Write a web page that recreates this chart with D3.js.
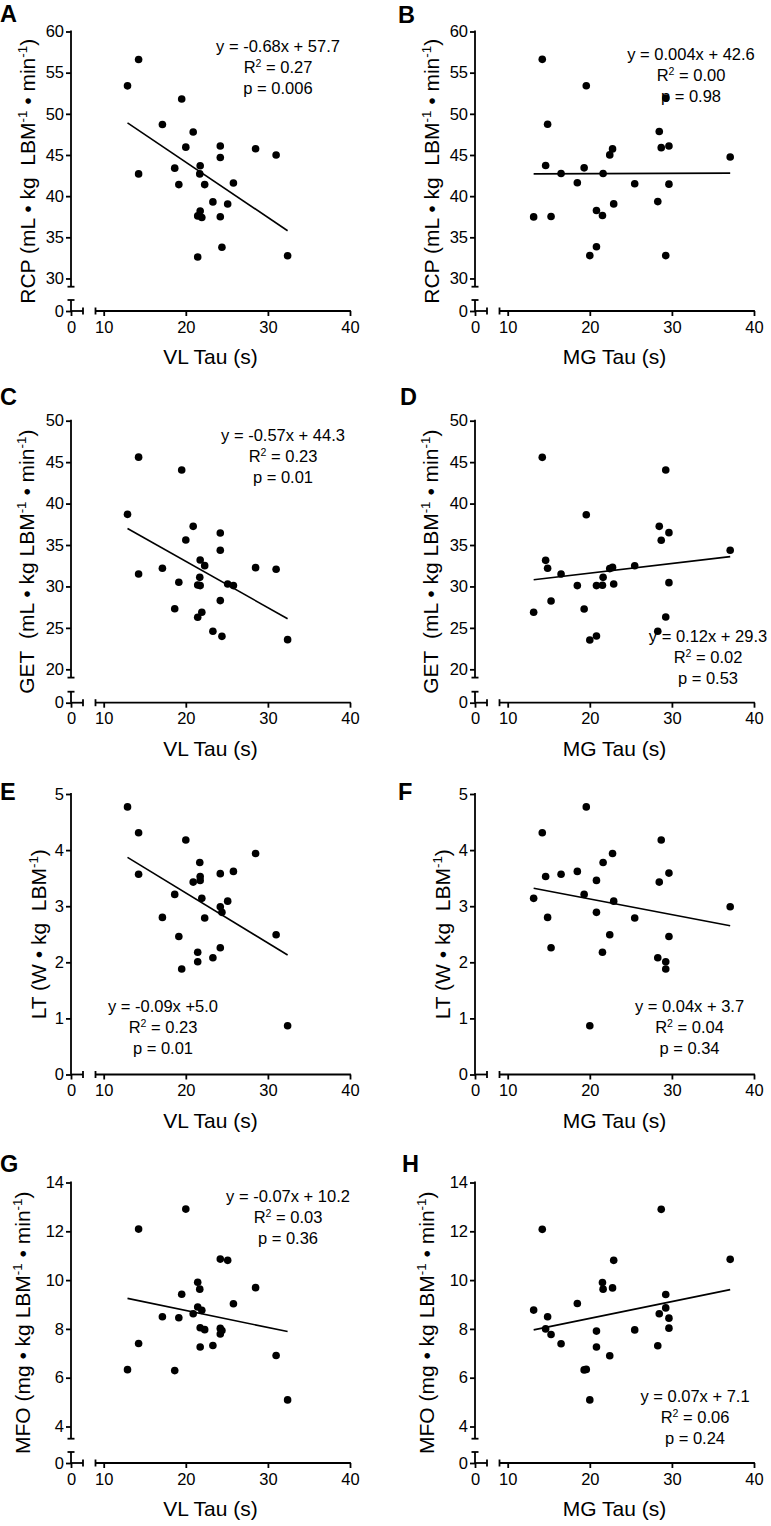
<!DOCTYPE html>
<html><head><meta charset="utf-8">
<script src="https://cdn.jsdelivr.net/npm/d3@7"></script>
<style>
body{margin:0;background:#fff}
svg text{font-family:"Liberation Sans",Arial,Helvetica,sans-serif;fill:#000}
</style>
</head><body>
<svg id="c" width="771" height="1526"></svg>
<script>
// ---------- DATA ----------
const vlTau = [12.9,14.25,14.25,17.15,18.65,19.15,19.5,20.0,20.9,21.45,21.45,21.7,21.75,21.75,21.95,22.3,23.3,24.2,24.2,24.2,24.4,25.1,25.8,28.5,31.0,32.4];
const mgTau = [13.16,14.21,14.62,14.86,15.28,16.5,18.48,19.31,19.57,20.0,20.81,20.81,21.54,21.62,22.43,22.77,22.91,25.47,28.28,28.46,28.7,29.25,29.25,29.64,29.64,37.1];

const rcpA = [53.4,56.6,42.7,48.7,43.4,41.4,51.8,45.95,47.8,37.6,32.6,42.7,43.7,38.2,37.4,41.4,39.3,46.1,44.7,37.5,33.8,39.05,41.6,45.75,45.0,32.76];
const getC = [38.7,45.6,31.5,32.2,27.3,30.5,44.05,35.6,37.25,30.18,26.28,31.1,33.19,30.1,26.88,32.51,24.59,36.45,34.36,28.29,23.98,30.3,30.1,32.27,32.07,23.58];
const ltE  = [4.77,4.31,3.57,2.80,3.21,2.46,1.88,4.18,3.43,2.18,2.01,3.78,3.53,3.46,3.14,2.79,2.08,3.58,2.99,2.26,2.89,3.09,3.62,3.94,2.49,0.87];
const mfoG = [6.33,12.09,7.40,8.5,6.29,8.46,9.42,12.91,8.62,9.91,8.9,9.63,8.05,7.26,8.76,7.97,7.32,10.86,8.02,7.79,7.93,10.81,9.03,9.69,6.91,5.09];

const rcpB = [37.48,56.62,43.72,48.74,37.52,42.75,41.62,43.44,53.41,32.78,38.25,33.86,37.64,42.75,45.01,45.74,39.06,41.5,39.34,47.86,45.89,51.92,32.78,46.09,41.46,44.76];
const getD = [26.88,45.58,33.15,32.19,28.25,31.5,30.1,27.28,38.66,23.54,30.1,24.02,30.14,31.1,32.15,32.3,30.3,32.5,24.59,37.25,35.57,44.05,26.32,36.49,30.46,34.36];
const ltF  = [3.14,4.31,3.53,2.80,2.26,3.57,3.62,3.21,4.77,0.87,3.46,2.89,2.18,3.78,2.49,3.94,3.09,2.79,2.08,3.43,4.18,2.01,1.88,3.59,2.46,2.99];
const mfoH = [8.77,12.08,8.0,8.5,7.77,7.39,9.04,6.32,6.34,5.09,7.91,7.26,9.9,9.63,6.9,9.68,10.81,7.96,7.31,8.62,12.9,9.41,8.86,8.44,8.03,10.85];

// regression lines: [x1, y1, x2, y2] as drawn
const fitA = [12.9, 48.9, 32.4, 35.8];
const fitB = [13.16, 42.7, 37.1, 42.8];
const fitC = [12.9, 37.0, 32.4, 26.1];
const fitD = [13.16, 30.8, 37.1, 33.6];
const fitE = [12.9, 3.87, 32.4, 2.13];
const fitF = [13.16, 3.32, 37.1, 2.65];
const fitG = [12.9, 9.25, 32.4, 7.89];
const fitH = [13.16, 7.96, 37.1, 9.61];

const statsA = ["y = -0.68x + 57.7", "R|2| = 0.27", "p = 0.006"];
const statsB = ["y = 0.004x + 42.6", "R|2| = 0.00", "p = 0.98"];
const statsC = ["y = -0.57x + 44.3", "R|2| = 0.23", "p = 0.01"];
const statsD = ["y = 0.12x + 29.3", "R|2| = 0.02", "p = 0.53"];
const statsE = ["y = -0.09x +5.0", "R|2| = 0.23", "p = 0.01"];
const statsF = ["y = 0.04x + 3.7", "R|2| = 0.04", "p = 0.34"];
const statsG = ["y = -0.07x + 10.2", "R|2| = 0.03", "p = 0.36"];
const statsH = ["y = 0.07x + 7.1", "R|2| = 0.06", "p = 0.24"];

const xTicks = [10, 20, 30, 40];
const yTicksRCP = [30, 35, 40, 45, 50, 55, 60];
const yTicksGET = [20, 25, 30, 35, 40, 45, 50];
const yTicksLT  = [0, 1, 2, 3, 4, 5];
const yTicksMFO = [4, 6, 8, 10, 12, 14];

const yTitleRCP = "RCP (mL • kg\u00A0\u00A0LBM|-1| • min|-1|)";
const yTitleGET = "GET\u00A0\u00A0(mL • kg LBM|-1| • min|-1|)";
const yTitleLT  = "LT (W • kg\u00A0\u00A0LBM|-1|)";
const yTitleMFO = "MFO (mg • kg LBM|-1| • min|-1|)";
const xTitleVL = "VL Tau (s)";
const xTitleMG = "MG Tau (s)";

// ---------- LAYOUT ----------
const rows = [
  {top:31.5, axis:311,    lo:29,  hi:60, loPx:286.7,  ticks:yTicksRCP, brk:true,  yOff:-36,  title:yTitleRCP},
  {top:420.7,axis:702.7,  lo:19,  hi:50, loPx:677.6,  ticks:yTicksGET, brk:true,  yOff:-37,  title:yTitleGET},
  {top:794,  axis:1074.5, lo:0,   hi:5,  loPx:1074.5, ticks:yTicksLT,  brk:false, yOff:-25.5,title:yTitleLT},
  {top:1182.5,axis:1463,  lo:3.5, hi:14, loPx:1438.7, ticks:yTicksMFO, brk:true,  yOff:-41,  title:yTitleMFO}
];
const panels = [
  {L:"A", row:0, x0:71,  lx:0,   ly:22,   xs:vlTau, ys:rcpA, fit:fitA, st:statsA, sx:278,  sy:51.7,  xt:xTitleVL},
  {L:"B", row:0, x0:475, lx:398, ly:23,   xs:mgTau, ys:rcpB, fit:fitB, st:statsB, sx:691,  sy:60,    xt:xTitleMG},
  {L:"C", row:1, x0:71,  lx:0,   ly:405,  xs:vlTau, ys:getC, fit:fitC, st:statsC, sx:283,  sy:440.7, xt:xTitleVL},
  {L:"D", row:1, x0:475, lx:400, ly:405,  xs:mgTau, ys:getD, fit:fitD, st:statsD, sx:708,  sy:641.7, xt:xTitleMG},
  {L:"E", row:2, x0:71,  lx:0,   ly:800,  xs:vlTau, ys:ltE,  fit:fitE, st:statsE, sx:163,  sy:1011.7,xt:xTitleVL},
  {L:"F", row:2, x0:475, lx:398, ly:800,  xs:mgTau, ys:ltF,  fit:fitF, st:statsF, sx:689.5,sy:1011.7,xt:xTitleMG},
  {L:"G", row:3, x0:71,  lx:0,   ly:1172, xs:vlTau, ys:mfoG, fit:fitG, st:statsG, sx:288,  sy:1201.7,xt:xTitleVL},
  {L:"H", row:3, x0:475, lx:402, ly:1172, xs:mgTau, ys:mfoH, fit:fitH, st:statsH, sx:695,  sy:1401.7,xt:xTitleMG}
];

const svg = d3.select("#c");
const SW = 1.8, TICK = 5, CAP = 3.5;
const FONT = '"Liberation Sans", Arial, Helvetica, sans-serif';
const fmt = d3.format("d");

// text with |sup| segments
function richText(sel, str, fs, supShift){
  const parts = str.split("|");
  parts.forEach((s, i) => {
    const t = sel.append("tspan").text(s);
    if (i % 2 === 1) {
      t.attr("font-size", fs * 0.64).attr("dy", -supShift);
    } else if (i > 0) {
      t.attr("dy", supShift);
    }
  });
}

function styleAxis(g){
  g.attr("font-family", FONT).attr("font-size", 16.5);
  g.selectAll(".tick line").attr("stroke", "#000").attr("stroke-width", SW);
  g.selectAll(".tick text").attr("fill", "#000");
  g.select(".domain").remove();
}
function seg(g, x1, y1, x2, y2, w){
  g.append("line").attr("x1", x1).attr("y1", y1).attr("x2", x2).attr("y2", y2)
    .attr("stroke", "#000").attr("stroke-width", w || SW).attr("stroke-linecap", "butt");
}

panels.forEach(p => {
  const r = rows[p.row];
  const g = svg.append("g");
  const x0 = p.x0;
  const x = d3.scaleLinear().domain([9, 40]).range([x0 + 24.5, x0 + 279]);
  const xLow = d3.scaleLinear().domain([0, 1.5]).range([x0, x0 + 12]);
  const y = d3.scaleLinear().domain([r.lo, r.hi]).range([r.loPx, r.top]);
  const yLow = d3.scaleLinear().domain([0, 1]).range([r.axis, r.axis - 11]);

  // X axis main segment
  const gx = g.append("g").attr("transform", `translate(0,${r.axis})`)
    .call(d3.axisBottom(x).tickValues(xTicks).tickFormat(fmt).tickSize(TICK).tickPadding(5));
  styleAxis(gx);
  seg(g, x(9), r.axis, x(40) + SW/2, r.axis);
  seg(g, x(9), r.axis - CAP, x(9), r.axis + CAP);
  // X axis low segment
  const gxl = g.append("g").attr("transform", `translate(0,${r.axis})`)
    .call(d3.axisBottom(xLow).tickValues([0]).tickFormat(fmt).tickSize(TICK).tickPadding(5));
  styleAxis(gxl);
  seg(g, xLow(0), r.axis, xLow(1.5), r.axis);
  seg(g, xLow(1.5), r.axis - CAP, xLow(1.5), r.axis + CAP);

  // Y axis main segment
  const gy = g.append("g").attr("transform", `translate(${x0},0)`)
    .call(d3.axisLeft(y).tickValues(r.ticks).tickFormat(fmt).tickSize(TICK).tickPadding(2));
  styleAxis(gy);
  seg(g, x0, y(r.hi) - SW/2, x0, y(r.lo));
  if (r.brk) {
    seg(g, x0 - CAP, y(r.lo), x0 + CAP, y(r.lo));
    const gyl = g.append("g").attr("transform", `translate(${x0},0)`)
      .call(d3.axisLeft(yLow).tickValues([0]).tickFormat(fmt).tickSize(TICK).tickPadding(2));
    styleAxis(gyl);
    seg(g, x0, yLow(0), x0, yLow(1));
    seg(g, x0 - CAP, yLow(1), x0 + CAP, yLow(1));
  }

  // regression line
  const f = p.fit;
  g.append("line").attr("x1", x(f[0])).attr("y1", y(f[1])).attr("x2", x(f[2])).attr("y2", y(f[3]))
    .attr("stroke", "#000").attr("stroke-width", 1.6);

  // points
  g.selectAll("circle.pt").data(p.xs.map((v, i) => [v, p.ys[i]])).enter().append("circle")
    .attr("cx", d => x(d[0])).attr("cy", d => y(d[1])).attr("r", 3.8).attr("fill", "#000");

  // stats text
  p.st.forEach((s, i) => {
    const t = g.append("text").attr("x", p.sx).attr("y", p.sy + i * 21)
      .attr("text-anchor", "middle").attr("font-size", 16.5);
    richText(t, s, 16.5, 6);
  });

  // x title
  g.append("text").attr("x", x0 + 139.5).attr("y", r.axis + 53)
    .attr("text-anchor", "middle").attr("font-size", 21).text(p.xt);

  // y title
  const cy = (r.top + r.axis) / 2;
  const yt = g.append("text").attr("transform", `translate(${x0 + r.yOff},${cy}) rotate(-90)`)
    .attr("text-anchor", "middle").attr("font-size", 21);
  richText(yt, r.title, 21, 8);

  // panel letter
  g.append("text").attr("x", p.lx).attr("y", p.ly).attr("font-size", 23.5)
    .attr("font-weight", "bold").text(p.L);
});
</script>
</body></html>
